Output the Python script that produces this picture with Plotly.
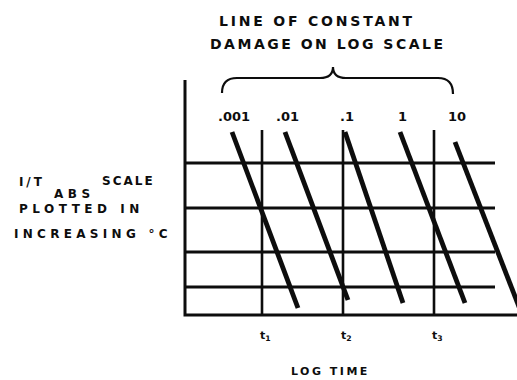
import plotly.graph_objects as go

# Schematic: lines of constant damage on a log-time / (1/T) grid.
# Units: x = log time (arbitrary), y = 1/T_abs scale (arbitrary), origin at the axes corner.

damage_labels = [".001", ".01", ".1", "1", "10"]
damage_x_top = [47, 100, 160, 215, 270]
damage_y_top = [183, 183, 183, 183, 173]
damage_x_bottom = [113, 163, 218, 280, 345]
damage_y_bottom = [7, 15, 12, 12, -20]

time_labels = ["t<sub>1</sub>", "t<sub>2</sub>", "t<sub>3</sub>"]
time_x = [77, 158, 249]
time_top = 185

temp_levels = [152, 107, 63, 28]
grid_right = 310

axis_top = 235
axis_right = 345

INK = "#0d0d0d"
FONT = "DejaVu Sans"

fig = go.Figure()

# horizontal temperature levels
for y in temp_levels:
    fig.add_trace(go.Scatter(x=[0, grid_right], y=[y, y], mode="lines",
                             line=dict(color=INK, width=2.8), hoverinfo="skip"))

# vertical time marks
for x in time_x:
    fig.add_trace(go.Scatter(x=[x, x], y=[0, time_top], mode="lines",
                             line=dict(color=INK, width=2.6), hoverinfo="skip"))

# axes
fig.add_trace(go.Scatter(x=[0, 0, axis_right], y=[axis_top, 0, 0], mode="lines",
                         line=dict(color=INK, width=3), hoverinfo="skip"))

# constant damage lines
for x0, y0, x1, y1 in zip(damage_x_top, damage_y_top, damage_x_bottom, damage_y_bottom):
    fig.add_trace(go.Scatter(x=[x0, x1], y=[y0, y1], mode="lines",
                             line=dict(color=INK, width=4.8), hoverinfo="skip"))

ann = []


def bold(size):
    return dict(family=FONT, color=INK, weight="bold", size=size)


def spaced(s, px, size):
    return f'<span style="letter-spacing:{px}px;font-size:{size}px">{s}</span>'


# damage values above each line
for lab, x in zip(damage_labels, damage_x_top):
    ann.append(dict(x=x + 2, y=183, text=lab, showarrow=False, yshift=16,
                    font=bold(13)))

# time labels under the axis
for lab, x in zip(time_labels, time_x):
    ann.append(dict(x=x, y=0, text=lab, showarrow=False, xshift=3, yshift=-21,
                    font=bold(11)))

ann += [
    dict(x=132, y=294, text=spaced("LINE OF CONSTANT", 2.8, 14), showarrow=False,
         font=bold(14)),
    dict(x=143, y=271, text=spaced("DAMAGE ON LOG SCALE", 2.5, 14), showarrow=False,
         font=bold(14)),
    dict(x=-168, y=133, text=spaced("I/T", 2.9, 12), showarrow=False,
         xanchor="left", font=bold(12)),
    dict(x=-133, y=121, text=spaced("ABS", 4.5, 12), showarrow=False,
         xanchor="left", font=bold(12)),
    dict(x=-85, y=134, text=spaced("SCALE", 2, 12), showarrow=False,
         xanchor="left", font=bold(12)),
    dict(x=-168, y=106, text=spaced("PLOTTED IN", 4.5, 12), showarrow=False,
         xanchor="left", font=bold(12)),
    dict(x=-173, y=81, text=spaced("INCREASING °C", 4.3, 12), showarrow=False,
         xanchor="left", font=bold(12)),
    dict(x=145, y=-56, text=spaced("LOG TIME", 2.5, 11), showarrow=False,
         font=bold(11)),
]

# curly brace grouping the damage lines
brace = ("M 37,222 Q 37,237 52,237 L 135,237 Q 148,237 148,248 "
         "Q 148,237 161,237 L 253,237 Q 268,237 268,221")

fig.update_layout(
    width=517, height=380,
    margin=dict(l=0, r=0, t=0, b=0),
    paper_bgcolor="white", plot_bgcolor="white",
    showlegend=False,
    xaxis=dict(range=[-185, 332], visible=False, fixedrange=True),
    yaxis=dict(range=[-65, 315], visible=False, fixedrange=True),
    annotations=ann,
    shapes=[dict(type="path", path=brace, xref="x", yref="y",
                 line=dict(color=INK, width=2.2))],
)

fig.write_html("out.html")
